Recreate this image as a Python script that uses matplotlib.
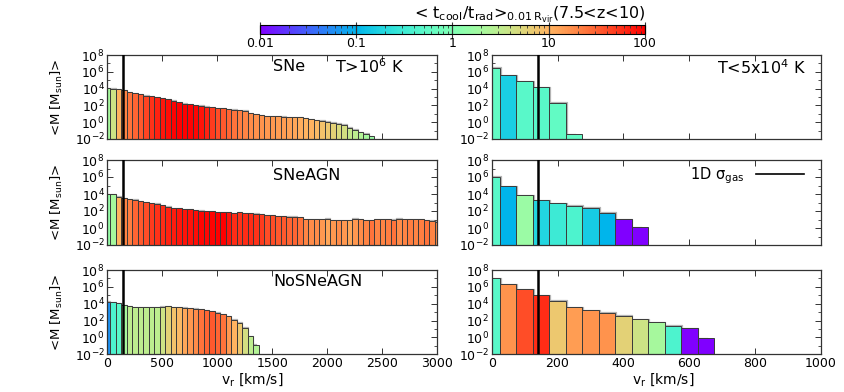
import numpy as np
import matplotlib
matplotlib.use('Agg')
import matplotlib.pyplot as plt
from matplotlib.colors import LogNorm
from matplotlib.lines import Line2D

plt.rcParams['font.family'] = ['DejaVu Sans']
plt.rcParams['mathtext.default'] = 'regular'

# --- dati ---
dv = 50.0                     # larghezza bin [km/s]
sigma_gas = 140.0             # 1D sigma_gas [km/s]

# log10 <M> per bin (centri a 0, 50, 100, ...)
logm_sne_hot = [4.04, 4.0, 3.95, 3.8, 3.56, 3.44, 3.32, 3.16, 3.08, 2.96,
                2.84, 2.72, 2.56, 2.4, 2.2, 2.12, 2.0, 1.94, 1.86, 1.78,
                1.7, 1.66, 1.58, 1.5, 1.42, 1.37, 1.1, 0.95, 0.8, 0.74,
                0.7, 0.7, 0.66, 0.62, 0.62, 0.58, 0.46, 0.34, 0.22, 0.18,
                0.06, -0.05, -0.17, -0.29, -0.65, -0.9, -1.2, -1.37, -1.64]
col_sne_hot = [2, 4, 10, 20, 25, 30, 35, 45, 55, 65,
               75, 85, 95, 100, 100, 95, 90, 80, 65, 50,
               40, 35, 30, 25, 22, 20, 18, 17, 16, 15,
               15, 14, 14, 13, 12, 11, 10, 10, 9, 8,
               7, 6, 5, 4.5, 3.5, 3, 2.5, 2, 1.6]

logm_sneagn_hot = [4.0, 4.0, 3.69, 3.53, 3.41, 3.33, 3.18, 3.02, 2.94, 2.86,
                   2.71, 2.51, 2.31, 2.31, 2.2, 2.2, 2.08, 2.04, 2.0, 1.96,
                   1.88, 1.84, 1.84, 1.76, 1.84, 1.76, 1.73, 1.69, 1.6, 1.53,
                   1.53, 1.41, 1.41, 1.33, 1.33, 1.25, 1.06, 1.02, 1.02, 1.02,
                   1.1, 0.94, 0.94, 0.9, 0.9, 1.1, 1.02, 0.9, 0.94, 1.02,
                   1.02, 1.02, 0.98, 1.1, 1.06, 1.02, 1.02, 1.02, 0.94, 0.86,
                   0.75]
col_sneagn_hot = [1.5, 2, 10, 20, 22, 30, 35, 40, 50, 55,
                  60, 65, 70, 75, 80, 80, 85, 90, 90, 95,
                  100, 100, 80, 60, 55, 60, 60, 55, 50, 40,
                  40, 35, 35, 30, 30, 25, 20, 18, 18, 15,
                  12, 15, 18, 15, 12, 15, 18, 20, 25, 20,
                  20, 22, 25, 18, 20, 22, 20, 22, 25, 20,
                  18]

logm_nosneagn_hot = [4.25, 4.16, 4.08, 3.8, 3.69, 3.57, 3.57, 3.57, 3.57, 3.57,
                     3.65, 3.69, 3.6, 3.57, 3.53, 3.49, 3.41, 3.33, 3.25, 3.14,
                     2.94, 2.78, 2.51, 2.12, 1.73, 1.14, 0.16, -0.86]
col_nosneagn_hot = [0.06, 0.4, 0.5, 2, 3, 3, 3, 3, 3, 3,
                    4, 6, 8, 9, 12, 15, 18, 25, 30, 35,
                    30, 25, 15, 10, 7, 4.5, 3, 2.5]

logm_sne_cold = [6.49, 5.62, 4.87, 4.15, 2.33, -1.44]
col_sne_cold = [0.6, 0.16, 0.5, 0.5, 0.6, 0.6]

logm_sneagn_cold = [6.04, 4.9, 3.84, 3.29, 2.9, 2.63, 2.39, 1.8, 1.06, 0.08]
col_sneagn_cold = [0.5, 0.1, 1.6, 0.19, 0.3, 0.4, 0.15, 0.1, 0.01, 0.01]

logm_nosneagn_cold = [7.01, 6.3, 5.71, 5.0, 4.36, 3.57, 3.22, 2.94, 2.58, 2.19,
                      1.79, 1.4, 1.08, -0.1]
col_nosneagn_cold = [0.5, 16, 40, 60, 7, 14, 16, 16, 6, 4,
                     2, 0.4, 0.01, 0.01]

left_data = [(logm_sne_hot, col_sne_hot), (logm_sneagn_hot, col_sneagn_hot),
             (logm_nosneagn_hot, col_nosneagn_hot)]
right_data = [(logm_sne_cold, col_sne_cold), (logm_sneagn_cold, col_sneagn_cold),
              (logm_nosneagn_cold, col_nosneagn_cold)]
run_names = ['SNe', 'SNeAGN', 'NoSNeAGN']

cmap = plt.get_cmap('rainbow')
norm = LogNorm(vmin=0.01, vmax=100)

W, H = 845, 392
fig = plt.figure(figsize=(W / 100, H / 100), dpi=100)

# posizioni pannelli (pixel)
rows_px = [(55, 139), (160, 245), (270, 354.3)]
lx0, lx1 = 107.3, 437.3
rx0, rx1 = 491.7, 821.0


def make_ax(x0, x1, y0, y1):
    return fig.add_axes([x0 / W, 1 - y1 / H, (x1 - x0) / W, (y1 - y0) / H])


def style_ax(ax, xmax, xstep, bottom_row, xlab_pos):
    ax.set_yscale('log')
    ax.set_ylim(1e-2, 1e8)
    ax.set_xlim(0, xmax)
    ax.set_yticks([10.0 ** k for k in range(-2, 9, 2)])
    ax.set_yticks([10.0 ** k for k in range(-1, 8, 2)], minor=True)
    ax.yaxis.set_minor_formatter(plt.NullFormatter())
    ax.set_xticks(np.arange(0, xmax + 1, xstep))
    ax.tick_params(which='both', direction='in', top=True, right=True,
                   labelsize=9, color='#333333', pad=2)
    ax.tick_params(which='major', length=4, width=0.7)
    ax.tick_params(which='minor', length=2.5, width=0.6)
    for s in ax.spines.values():
        s.set_color('#333333')
        s.set_linewidth(0.9)
    if bottom_row:
        ax.set_xlabel(r'v$_r$ [km/s]', fontsize=10, labelpad=1)
        ax.xaxis.set_label_coords(xlab_pos, -0.2)
    else:
        ax.tick_params(labelbottom=False)


def draw_bars(ax, logm, col):
    centers = np.arange(len(logm)) * dv
    m = 10.0 ** np.array(logm)
    # leggera ombra grigia del contorno
    ax.step(centers + 0.05 * dv, m * 1.12, where='mid', color='#b4b4b4',
            lw=0.9, zorder=1.5)
    ax.bar(centers, m, width=dv, bottom=1e-3,
           color=cmap(norm(np.array(col))), edgecolor='#3a3a3a',
           linewidth=0.7, zorder=2)
    ax.axvline(sigma_gas, color='black', lw=1.8, zorder=3)


axes_left, axes_right = [], []
for i, (y0, y1) in enumerate(rows_px):
    axl = make_ax(lx0, lx1, y0, y1)
    draw_bars(axl, *left_data[i])
    style_ax(axl, 3000, 500, i == 2, 0.44)
    axl.set_ylabel(r'<M [M$_{sun}$]>', fontsize=9.5, labelpad=7)
    axl.text(0.502, 0.86 if i != 1 else 0.82, run_names[i], transform=axl.transAxes,
             fontsize=11.5, va='center', ha='left')
    axes_left.append(axl)

    axr = make_ax(rx0, rx1, y0, y1)
    draw_bars(axr, *right_data[i])
    style_ax(axr, 1000, 200, i == 2, 0.52)
    axes_right.append(axr)

axes_left[0].text(0.69, 0.86, r'T>10$^6$ K', transform=axes_left[0].transAxes,
                  fontsize=11.5, va='center', ha='left')
axes_right[0].text(0.955, 0.85, r'T<5x10$^4$ K', transform=axes_right[0].transAxes,
                   fontsize=11.5, va='center', ha='right')
axes_right[1].legend([Line2D([0], [0], color='black', lw=1.2)], [r'1D $\sigma_{gas}$'],
                     loc='upper right', frameon=False, markerfirst=False,
                     handlelength=3.3, fontsize=10.5, borderaxespad=0.1,
                     bbox_to_anchor=(0.97, 1.02))

# --- barra dei colori ---
cax = fig.add_axes([260 / W, 1 - 34 / H, 385 / W, 9 / H])
sm = plt.cm.ScalarMappable(norm=norm, cmap=cmap)
cb = fig.colorbar(sm, cax=cax, orientation='horizontal')
cb.set_ticks([0.01, 0.1, 1, 10, 100])
cb.set_ticklabels(['0.01', '0.1', '1', '10', '100'])
cax.tick_params(which='both', direction='in', top=True, bottom=True,
                labelsize=9, pad=2, color='#333333')
cax.tick_params(which='major', length=9)
cax.tick_params(which='minor', length=2)
cb.outline.set_linewidth(0.8)
cax.set_title(r'< t$_{cool}$/t$_{rad}$>$_{0.01\,R_{vir}}$(7.5<z<10)',
              fontsize=11.5, pad=1, loc='right')

fig.savefig('out.png', dpi=100)
